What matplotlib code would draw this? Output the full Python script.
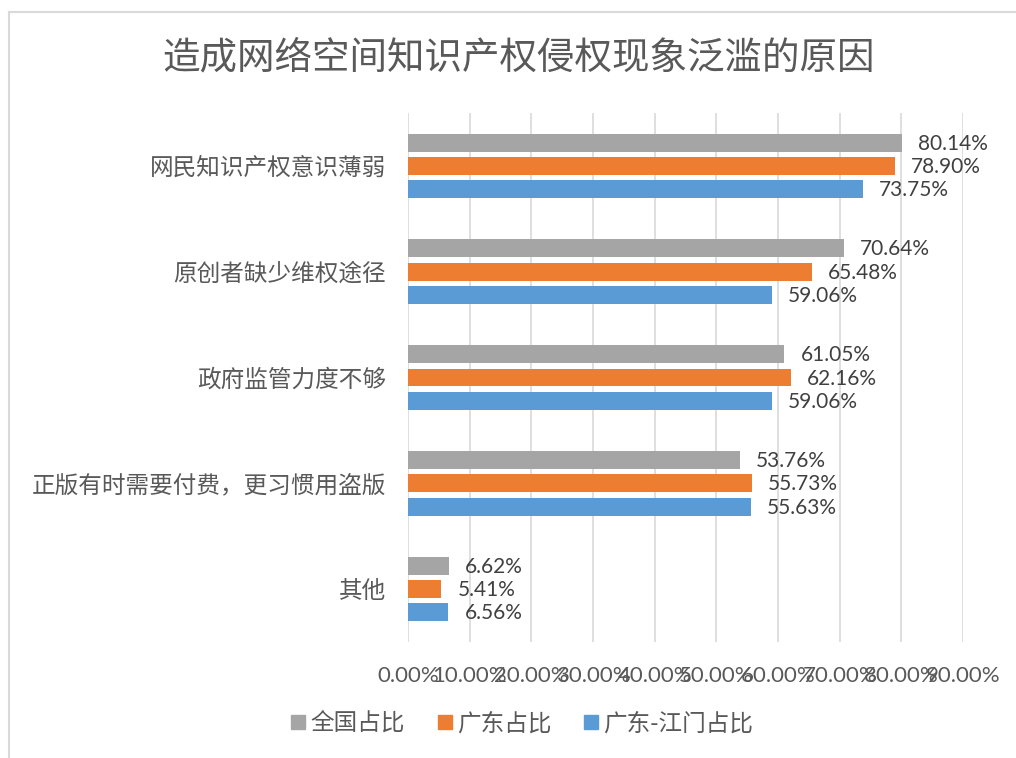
import numpy as np
import matplotlib.pyplot as plt
from matplotlib.lines import Line2D

plt.rcParams['font.family'] = ['Noto Sans CJK SC', 'DejaVu Sans']

# data
categories = ['网民知识产权意识薄弱', '原创者缺少维权途径', '政府监管力度不够',
              '正版有时需要付费，更习惯用盗版', '其他']
series_names = ['全国占比', '广东占比', '广东-江门占比']
national = [80.14, 70.64, 61.05, 53.76, 6.62]
guangdong = [78.90, 65.48, 62.16, 55.73, 5.41]
jiangmen = [73.75, 59.06, 59.06, 55.63, 6.56]
xticks = [0, 10, 20, 30, 40, 50, 60, 70, 80, 90]

colors = ['#A5A5A5', '#ED7D31', '#5B9BD5']
label_font = ['Lato', 'DejaVu Sans']

fig = plt.figure(figsize=(10.16, 7.58), dpi=100)
ax = fig.add_axes([408 / 1016, 1 - 642 / 758, 555 / 1016, 529 / 758])

y = np.arange(len(categories))
offsets = [-0.22, 0, 0.22]
for vals, off, col in zip([national, guangdong, jiangmen], offsets, colors):
    bars = ax.barh(y + off, vals, height=0.17, color=col, zorder=3)
    for b, v in zip(bars, vals):
        ax.text(v + 2.6, b.get_y() + b.get_height() / 2 + 0.01, f'{v:.2f}%',
                ha='left', va='center', fontsize=15, color='#404040',
                family=label_font, zorder=4)

ax.set_xlim(0, 90)
ax.set_ylim(len(categories) - 0.5, -0.5)
ax.set_xticks(xticks)
ax.set_xticklabels([f'{t:.2f}%' for t in xticks], fontsize=16, color='#595959',
                   family=label_font)
ax.set_yticks(y)
ax.set_yticklabels(categories, fontsize=17, color='#595959')
ax.tick_params(axis='both', length=0)
ax.tick_params(axis='x', pad=17)
ax.tick_params(axis='y', pad=16)
ax.grid(axis='x', color='#D9D9D9', linewidth=1.2, zorder=0)
for s in ax.spines.values():
    s.set_visible(False)

fig.text(518 / 1016, 1 - 58 / 758, '造成网络空间知识产权侵权现象泛滥的原因',
         ha='center', va='center', fontsize=27, color='#595959')

handles = [Line2D([], [], marker='s', linestyle='none', markersize=10,
                  markerfacecolor=c, markeredgecolor=c) for c in colors]
fig.legend(handles, series_names, loc='center', bbox_to_anchor=(521 / 1016, 1 - 724 / 758),
           ncol=3, frameon=False, fontsize=17, labelcolor='#595959',
           handletextpad=0.1, columnspacing=1.3, handlelength=0.8)

# chart border (cropped on right and bottom)
fig.add_artist(Line2D([9 / 1016, 9 / 1016], [0, 1 - 12 / 758], color='#D9D9D9', linewidth=1.5))
fig.add_artist(Line2D([9 / 1016, 1], [1 - 12 / 758, 1 - 12 / 758], color='#D9D9D9', linewidth=1.5))

plt.savefig('out.png', dpi=100)
